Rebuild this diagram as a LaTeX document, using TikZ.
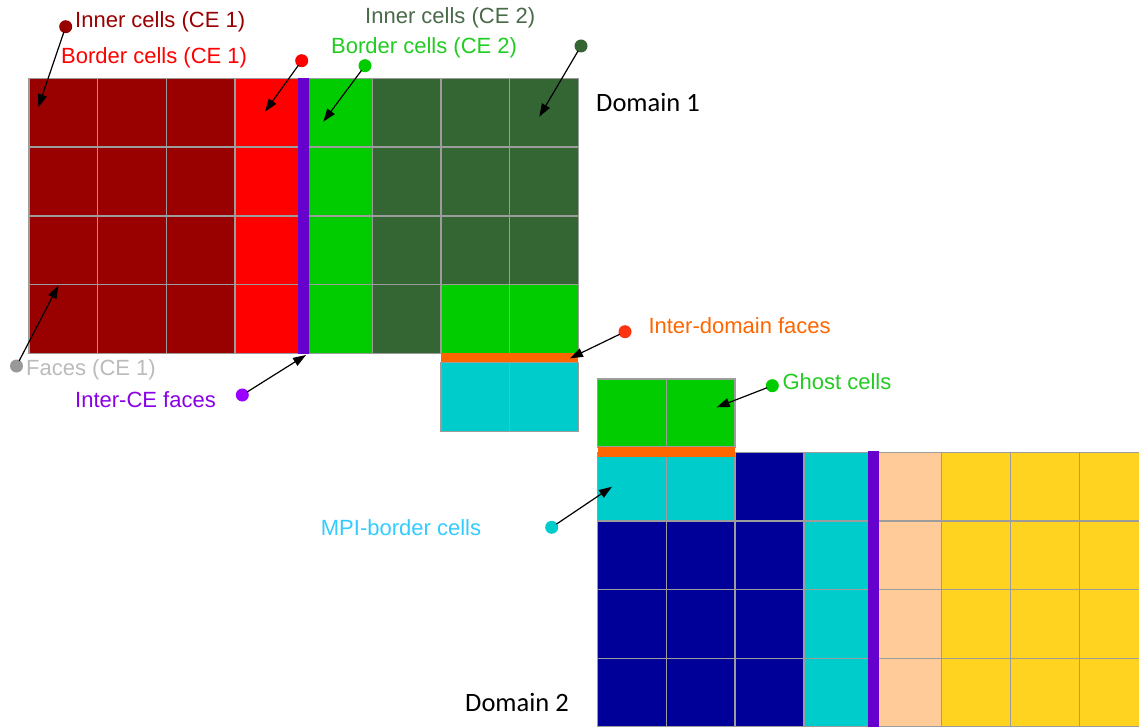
\documentclass[tikz,border=0pt]{standalone}
\usepackage{fontspec}
\setmainfont{Liberation Sans}
\newfontfamily\domfont{Carlito}
\usetikzlibrary{arrows.meta}
\definecolor{cDarkRed}{HTML}{990000}
\definecolor{cRed}{HTML}{FF0000}
\definecolor{cGreen}{HTML}{00CC00}
\definecolor{cDarkGreen}{HTML}{336633}
\definecolor{cPurple}{HTML}{6600CC}
\definecolor{cOrange}{HTML}{FF6600}
\definecolor{cCyan}{HTML}{00CCCC}
\definecolor{cBlue}{HTML}{000099}
\definecolor{cPeach}{HTML}{FFCC99}
\definecolor{cYellow}{HTML}{FFD320}
\definecolor{cGrid}{HTML}{9C9C9C}
\definecolor{tInner2}{HTML}{4A6A4A}
\definecolor{tBorder2}{HTML}{22CC22}
\definecolor{tFaces}{HTML}{BBBBBB}
\definecolor{dFaces}{HTML}{999999}
\definecolor{tInterCE}{HTML}{8A00E6}
\definecolor{dInterCE}{HTML}{9900FF}
\definecolor{dInterDom}{HTML}{FF3311}
\definecolor{tMPI}{HTML}{33CCFF}
\tikzset{
  cellbox/.style={draw=cGrid, line width=1.5pt},
  facebar/.style={line width=0pt},
  lbl/.style={anchor=base west, inner sep=0pt, font=\fontsize{22}{26}\selectfont},
  domlbl/.style={anchor=base west, inner sep=0pt, font=\domfont\fontsize{26.5}{30}\selectfont},
  dot/.style={circle, inner sep=0pt, minimum size=13pt},
  pointer/.style={draw=black, line width=1.2pt, -{Triangle[length=13pt,width=9pt]}, shorten <=-1pt}
}
\begin{document}
\begin{tikzpicture}[x=1pt,y=-1pt]
\useasboundingbox (0,0) rectangle (1139,727);
\clip (0,0) rectangle (1139,727);
\fill[white] (0,0) rectangle (1139,727);

% ---------- Domain 1 ----------
\def\ax{29}\def\ay{78.3}\def\aw{68.67}\def\ah{68.75}
\foreach \c/\col in {0/cDarkRed,1/cDarkRed,2/cDarkRed,3/cRed,4/cGreen,5/cDarkGreen,6/cDarkGreen,7/cDarkGreen}{
  \foreach \r in {0,1,2}{
    \path[cellbox, fill=\col] ({\ax+\c*\aw},{\ay+\r*\ah}) rectangle ++(\aw,\ah);
  }
}
\foreach \c/\col in {0/cDarkRed,1/cDarkRed,2/cDarkRed,3/cRed,4/cGreen,5/cDarkGreen,6/cGreen,7/cGreen}{
  \path[cellbox, fill=\col] ({\ax+\c*\aw},{\ay+3*\ah}) rectangle ++(\aw,\ah);
}
% cyan cells below domain 1
\foreach \c in {6,7}{
  \path[cellbox, fill=cCyan] ({\ax+\c*\aw},362.3) rectangle ++(\aw,69.4);
}
% inter-CE face (domain 1)
\fill[cPurple] (297.7,78.3) rectangle (309.3,354);
% inter-domain face (domain 1)
\fill[cOrange] ({\ax+6*\aw},353.3) rectangle ({\ax+8*\aw},362.3);

% ---------- Domain 2 ----------
\def\bx{597.5}\def\by{452.3}\def\bw{68.83}\def\bh{68.7}
% ghost cells
\foreach \c in {0,1}{
  \path[cellbox, fill=cGreen] ({\bx+\c*\bw},379) rectangle ++(\bw,68);
}
\foreach \c/\col in {0/cCyan,1/cCyan,2/cBlue,3/cCyan,4/cPeach,5/cYellow,6/cYellow,7/cYellow}{
  \path[cellbox, fill=\col] ({\bx+\c*\bw},\by) rectangle ++(\bw,\bh);
}
\foreach \c/\col in {0/cBlue,1/cBlue,2/cBlue,3/cCyan,4/cPeach,5/cYellow,6/cYellow,7/cYellow}{
  \foreach \r in {1,2,3}{
    \path[cellbox, fill=\col] ({\bx+\c*\bw},{\by+\r*\bh}) rectangle ++(\bw,\bh);
  }
}
% inter-domain face (domain 2)
\fill[cOrange] (\bx,447) rectangle ({\bx+2*\bw},457);
% inter-CE face (domain 2)
\fill[cPurple] (867.7,450.7) rectangle (879,727);

% ---------- Labels ----------
\node[lbl, text=cDarkRed] (lInner1) at (75,27.3) {Inner cells (CE 1)};
\node[lbl, text=cRed] (lBorder1) at (61,64) {Border cells (CE 1)};
\node[lbl, text=tInner2] (lInner2) at (365,24) {Inner cells (CE 2)};
\node[lbl, text=tBorder2] (lBorder2) at (331,54) {Border cells (CE 2)};
\node[domlbl, text=black] (lDom1) at (596,111.7) {Domain 1};
\node[lbl, text=tFaces] (lFaces) at (26,375) {Faces (CE 1)};
\node[lbl, text=tInterCE] (lInterCE) at (75,407.3) {Inter-CE faces};
\node[lbl, text=cOrange] (lInterDom) at (648.3,333.3) {Inter-domain faces};
\node[lbl, text=tBorder2] (lGhost) at (782.3,389.3) {Ghost cells};
\node[lbl, text=tMPI] (lMPI) at (320.7,535) {MPI-border cells};
\node[domlbl, text=black] (lDom2) at (465,711.7) {Domain 2};

% ---------- Pointer dots and targets ----------
\node[dot, fill=cDarkRed] (dInner1) at (65.7,26.7) {};
\node[dot, fill=cRed] (dBorder1) at (301.7,60.7) {};
\node[dot, fill=cDarkGreen] (dInner2) at (581,46) {};
\node[dot, fill=cGreen] (dBorder2) at (365,65.7) {};
\node[dot, fill=dFaces] (dFaces) at (16.5,366) {};
\node[dot, fill=dInterCE] (dInterCE) at (242.3,395) {};
\node[dot, fill=dInterDom] (dInterDom) at (625,331.7) {};
\node[dot, fill=cGreen] (dGhost) at (772.3,385.7) {};
\node[dot, fill=cCyan] (dMPI) at (551.7,527.3) {};

\coordinate (tInner1) at (38.3,107.3);
\coordinate (tBorder1) at (265,111.7);
\coordinate (tInner2) at (539.3,116.7);
\coordinate (tBorder2) at (323.3,121.7);
\coordinate (tFaces) at (58.3,285.5);
\coordinate (tInterCE) at (306,355);
\coordinate (tInterDom) at (570,358.3);
\coordinate (tGhost) at (716.7,407.3);
\coordinate (tMPI) at (612,486.7);

\draw[pointer] (dInner1) -- (tInner1);
\draw[pointer] (dBorder1) -- (tBorder1);
\draw[pointer] (dInner2) -- (tInner2);
\draw[pointer] (dBorder2) -- (tBorder2);
\draw[pointer] (dFaces) -- (tFaces);
\draw[pointer] (dInterCE) -- (tInterCE);
\draw[pointer] (dInterDom) -- (tInterDom);
\draw[pointer] (dGhost) -- (tGhost);
\draw[pointer] (dMPI) -- (tMPI);
\end{tikzpicture}
\end{document}
